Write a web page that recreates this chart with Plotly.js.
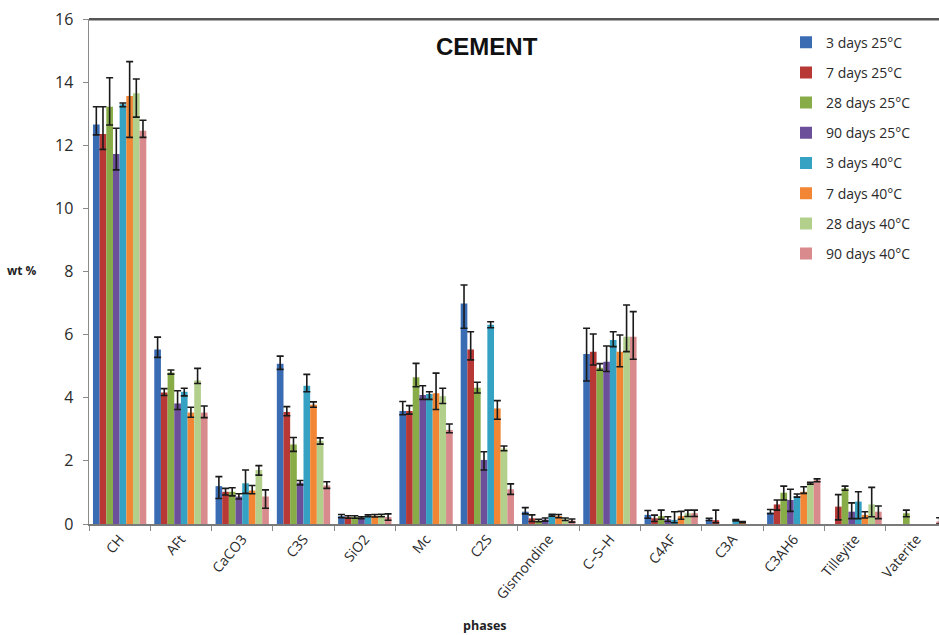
<!DOCTYPE html>
<html>
<head>
<meta charset="utf-8">
<script src="https://cdn.plot.ly/plotly-3.0.1.min.js"></script>
<style>html,body{margin:0;padding:0;background:#fff;}#chart{width:939px;height:635px;}</style>
</head>
<body>
<div id="chart"></div>
<script>
const categories = ['CH','AFt','CaCO3','C3S','SiO2','Mc','C2S','Gismondine','C–S–H','C4AF','C3A','C3AH6','Tilleyite','Vaterite'];
const seriesNames = ['3 days 25°C','7 days 25°C','28 days 25°C','90 days 25°C','3 days 40°C','7 days 40°C','28 days 40°C','90 days 40°C'];

const d3_25  = [12.66, 5.53, 1.20, 5.08, 0.25, 3.58, 6.99, 0.39, 5.39, 0.29, 0.14, 0.36, null, null];
const d3_25p = [0.56, 0.39, 0.30, 0.24, 0.05, 0.30, 0.58, 0.13, 0.81, 0.14, 0.04, 0.10, null, null];
const d3_25m = [0.33, 0.25, 0.39, 0.18, 0.05, 0.12, 0.79, 0.07, 0.86, 0.11, 0.03, 0.03, null, null];

const d7_25  = [12.36, 4.17, 1.02, 3.55, 0.22, 3.58, 5.53, 0.18, 5.46, 0.18, 0.12, 0.62, 0.55, null];
const d7_25p = [0.86, 0.12, 0.11, 0.17, 0.04, 0.17, 0.56, 0.11, 0.56, 0.10, 0.32, 0.14, 0.38, null];
const d7_25m = [0.49, 0.10, 0.10, 0.12, 0.04, 0.10, 0.33, 0.10, 0.42, 0.10, 0.08, 0.18, 0.42, null];

const d28_25  = [13.22, 4.80, 1.02, 2.52, 0.22, 4.65, 4.32, 0.11, 4.95, 0.25, null, 0.99, 1.13, 0.34];
const d28_25p = [0.92, 0.08, 0.13, 0.22, 0.04, 0.44, 0.17, 0.04, 0.13, 0.19, null, 0.21, 0.07, 0.10];
const d28_25m = [0.58, 0.05, 0.13, 0.22, 0.04, 0.30, 0.17, 0.04, 0.08, 0.10, null, 0.23, 0.06, 0.11];

const d90_25  = [11.72, 3.82, 0.87, 1.31, 0.20, 4.09, 2.03, 0.14, 5.14, 0.15, null, 0.76, 0.39, null];
const d90_25p = [0.82, 0.40, 0.09, 0.07, 0.03, 0.29, 0.26, 0.05, 0.50, 0.08, null, 0.34, 0.28, null];
const d90_25m = [0.50, 0.19, 0.08, 0.07, 0.03, 0.14, 0.32, 0.05, 0.31, 0.07, null, 0.36, 0.22, null];

const d3_40  = [13.30, 4.19, 1.29, 4.38, 0.26, 4.12, 6.31, 0.28, 5.83, 0.13, 0.12, 0.88, 0.71, null];
const d3_40p = [0.04, 0.11, 0.42, 0.36, 0.03, 0.07, 0.10, 0.03, 0.26, 0.26, 0.02, 0.07, 0.31, null];
const d3_40m = [0.08, 0.13, 0.32, 0.19, 0.03, 0.17, 0.09, 0.03, 0.21, 0.09, 0.02, 0.03, 0.54, null];

const d7_40  = [13.56, 3.53, 1.06, 3.78, 0.26, 4.14, 3.66, 0.25, 5.46, 0.25, 0.06, 1.02, 0.29, null];
const d7_40p = [1.09, 0.17, 0.16, 0.09, 0.04, 0.64, 0.25, 0.05, 0.53, 0.15, 0.02, 0.16, 0.10, null];
const d7_40m = [1.31, 0.15, 0.10, 0.08, 0.04, 0.51, 0.34, 0.05, 0.48, 0.10, 0.02, 0.05, 0.10, null];

const d28_40  = [13.65, 4.55, 1.71, 2.64, 0.27, 4.05, 2.39, 0.15, 5.93, 0.34, null, 1.29, 0.62, null];
const d28_40p = [0.45, 0.38, 0.14, 0.09, 0.04, 0.25, 0.08, 0.04, 1.01, 0.10, null, 0.03, 0.54, null];
const d28_40m = [0.76, 0.10, 0.16, 0.11, 0.04, 0.23, 0.07, 0.04, 0.47, 0.10, null, 0.03, 0.39, null];

const d90_40  = [12.46, 3.53, 0.87, 1.22, 0.22, 2.98, 1.10, 0.11, 5.93, 0.34, null, 1.39, 0.39, 0.08];
const d90_40p = [0.33, 0.21, 0.21, 0.12, 0.10, 0.19, 0.17, 0.05, 0.80, 0.10, null, 0.04, 0.18, 0.12];
const d90_40m = [0.21, 0.16, 0.37, 0.09, 0.10, 0.09, 0.16, 0.05, 0.71, 0.10, null, 0.05, 0.22, 0.08];

const colors = ['#3a6cb4','#b83835','#88ad48','#6b4f9a','#35a2c3','#f28634','#b2d08c','#d98a8c'];

const vals = [d3_25, d7_25, d28_25, d90_25, d3_40, d7_40, d28_40, d90_40];
const errP = [d3_25p, d7_25p, d28_25p, d90_25p, d3_40p, d7_40p, d28_40p, d90_40p];
const errM = [d3_25m, d7_25m, d28_25m, d90_25m, d3_40m, d7_40m, d28_40m, d90_40m];

const traces = seriesNames.map((name, i) => ({
  type: 'bar',
  name: name,
  x: categories,
  y: vals[i],
  legendgroup: 'g' + i,
  marker: {color: colors[i], line: {width: 0}},
  error_y: {type: 'data', symmetric: false, array: errP[i], arrayminus: errM[i],
            color: '#1a1a1a', thickness: 1.6, width: 3.5, visible: true}
}));

const layout = {
  width: 939, height: 635,
  margin: {l: 89, r: 0, t: 19, b: 111, pad: 0},
  paper_bgcolor: '#ffffff', plot_bgcolor: '#ffffff',
  barmode: 'group', bargap: 0.13, bargroupgap: 0,
  font: {family: 'Open Sans, sans-serif', color: '#333333'},
  xaxis: {
    type: 'category', range: [-0.5, 13.37],
    showline: true, linecolor: '#7a7a7a', linewidth: 1.5,
    ticks: 'outside', tickson: 'boundaries', ticklen: 5, tickcolor: '#8a8a8a',
    tickangle: -50, tickfont: {size: 14, color: '#2a2a2a'},
    showgrid: false, zeroline: false, fixedrange: true
  },
  yaxis: {
    range: [0, 16], dtick: 2, tick0: 0,
    showline: true, linecolor: '#8a8a8a', linewidth: 1.5,
    ticks: 'outside', ticklen: 5, tickcolor: '#8a8a8a', ticklabelstandoff: 6,
    tickfont: {size: 16, color: '#2a2a2a'},
    showgrid: false, zeroline: false, fixedrange: true
  },
  shapes: [
    {type: 'rect', xref: 'paper', yref: 'paper', x0: 0, x1: 1, y0: 0.997, y1: 1.002,
     layer: 'above', fillcolor: '#555555', line: {width: 0}}
  ],
  showlegend: true,
  legend: {
    x: 0.82, y: 0.985, xanchor: 'left', yanchor: 'top',
    traceorder: 'grouped', tracegroupgap: 9,
    font: {size: 14, color: '#2a2a2a'}, bgcolor: 'rgba(0,0,0,0)', borderwidth: 0
  },
  annotations: [
    {text: '<b>CEMENT</b>', xref: 'paper', yref: 'paper', x: 0.468, y: 0.945,
     xanchor: 'center', yanchor: 'middle', showarrow: false,
     font: {family: 'Liberation Sans, Arial, sans-serif', size: 24, color: '#111111'}},
    {text: '<b>wt %</b>', xref: 'paper', yref: 'paper', x: -0.079, y: 0.501,
     xanchor: 'center', yanchor: 'middle', showarrow: false,
     font: {size: 12, color: '#222222'}},
    {text: '<b>phases</b>', xref: 'paper', yref: 'paper', x: 0.466, y: -0.2,
     xanchor: 'center', yanchor: 'middle', showarrow: false,
     font: {size: 12.5, color: '#222222'}}
  ]
};

Plotly.newPlot('chart', traces, layout, {displayModeBar: false, staticPlot: true});
</script>
</body>
</html>
